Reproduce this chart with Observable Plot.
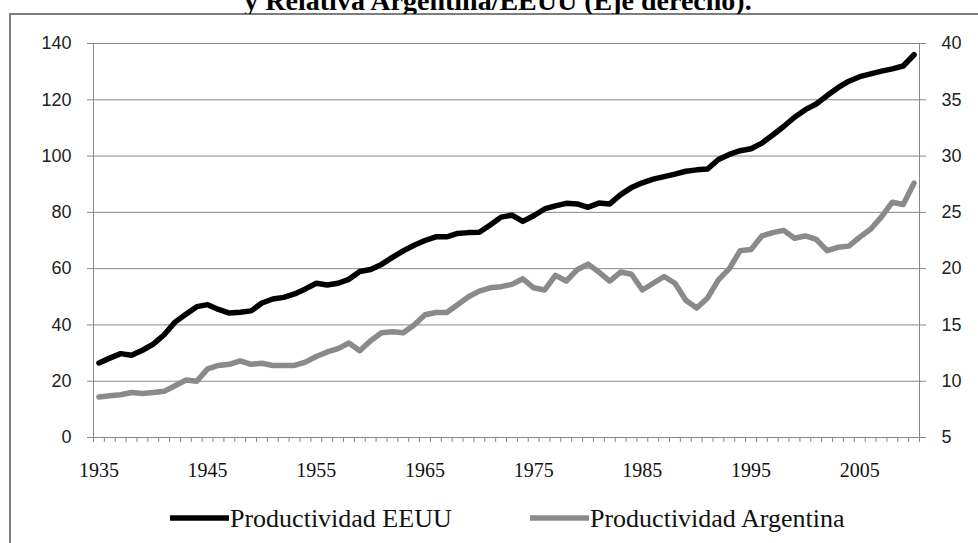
<!DOCTYPE html>
<html>
<head>
<meta charset="utf-8">
<script src="https://cdn.jsdelivr.net/npm/d3@7"></script>
<script src="https://cdn.jsdelivr.net/npm/@observablehq/plot@0.6"></script>
<style>
  html, body { margin: 0; padding: 0; background: #fff; overflow: hidden; }
  #wrap { position: relative; width: 978px; height: 543px; overflow: hidden; }
  #wrap > svg { position: absolute; left: 0; top: 0; }
  #frame { position: absolute; left: 9px; top: 13px; width: 1000px; height: 600px;
           border-top: 2px solid #7d7d7d; border-left: 2px solid #7d7d7d; box-sizing: border-box; }
</style>
</head>
<body>
<div id="wrap"><div id="frame"></div></div>
<script>
// ---- data ----
const titleText = "y Relativa Argentina/EEUU (Eje derecho).";
const seriesNames = ["Productividad EEUU", "Productividad Argentina"];
const years = [1935,1936,1937,1938,1939,1940,1941,1942,1943,1944,1945,1946,1947,1948,1949,
  1950,1951,1952,1953,1954,1955,1956,1957,1958,1959,1960,1961,1962,1963,1964,1965,1966,1967,
  1968,1969,1970,1971,1972,1973,1974,1975,1976,1977,1978,1979,1980,1981,1982,1983,1984,1985,
  1986,1987,1988,1989,1990,1991,1992,1993,1994,1995,1996,1997,1998,1999,2000,2001,2002,2003,
  2004,2005,2006,2007,2008,2009,2010];
// Productividad EEUU (left axis)
const eeuu = [26.5,28.2,29.8,29.2,31.0,33.2,36.5,41.0,43.8,46.5,47.2,45.5,44.2,44.5,45.0,
  47.8,49.2,49.8,51.0,52.8,54.8,54.2,54.8,56.2,59.0,59.7,61.5,64.0,66.3,68.3,70.0,71.3,71.3,
  72.5,72.8,72.9,75.5,78.3,79.0,76.8,78.8,81.2,82.3,83.2,83.0,81.8,83.3,83.0,86.3,88.8,90.5,
  91.8,92.7,93.6,94.6,95.1,95.4,98.8,100.6,101.9,102.6,104.6,107.5,110.5,113.8,116.5,118.5,
  121.5,124.3,126.6,128.2,129.2,130.2,131.0,132.0,136.0];
// Productividad Argentina (right axis)
const argentina = [8.6,8.7,8.8,9.0,8.9,9.0,9.1,9.6,10.1,10.0,11.1,11.4,11.5,11.8,11.5,
  11.6,11.4,11.4,11.4,11.7,12.2,12.6,12.9,13.4,12.7,13.6,14.3,14.4,14.3,15.0,15.9,16.1,16.1,
  16.8,17.5,18.0,18.3,18.4,18.6,19.1,18.3,18.1,19.4,18.9,19.9,20.4,19.7,18.9,19.7,19.5,18.1,
  18.7,19.3,18.7,17.2,16.5,17.4,19.0,20.0,21.6,21.7,22.9,23.2,23.4,22.7,22.9,22.6,21.6,21.9,
  22.0,22.8,23.5,24.6,25.9,25.7,27.6];
const leftTicks = [0,20,40,60,80,100,120,140];
const rightTicks = [5,10,15,20,25,30,35,40];
const xTickYears = [1935,1945,1955,1965,1975,1985,1995,2005];
const colors = ["#000000", "#8a8a8a"];

// ---- scale helpers ----
const rightMin = 5, rightMax = 40, leftMax = 140;
const toLeft = v => (v - rightMin) * leftMax / (rightMax - rightMin);
const fromLeft = d => d * (rightMax - rightMin) / leftMax + rightMin;
const catBounds = years.map(y => y - 0.5).concat([years[years.length - 1] + 0.5]);

const rows = years.map((y, i) => ({year: y, us: eeuu[i], ar: argentina[i]}));

const chart = Plot.plot({
  width: 978,
  height: 543,
  marginTop: 43,
  marginBottom: 106,
  marginLeft: 93,
  marginRight: 59,
  style: {background: "transparent", overflow: "visible", fontFamily: "Liberation Serif"},
  x: {domain: [years[0] - 0.5, years[years.length - 1] + 0.5], axis: null},
  y: {domain: [0, leftMax], axis: null},
  marks: [
    Plot.ruleY(leftTicks, {stroke: "#878787", strokeWidth: 1}),
    Plot.ruleX([catBounds[0], catBounds[catBounds.length - 1]], {stroke: "#878787", strokeWidth: 1}),
    Plot.axisX({ticks: catBounds, tickSize: 5, tickFormat: () => "", stroke: "#878787", label: null}),
    Plot.axisX({ticks: xTickYears, tickSize: 0, tickPadding: 25, tickFormat: d => String(d),
      fontSize: 20, fontFamily: "Liberation Serif", fill: "#111", label: null}),
    Plot.axisY({anchor: "left", ticks: leftTicks, tickSize: 6, tickPadding: 16, label: null,
      stroke: "#878787", fill: "#222", fontSize: 18, fontFamily: "Liberation Sans", tickFormat: d => String(d)}),
    Plot.axisY({anchor: "right", ticks: rightTicks.map(toLeft), tickSize: 6, tickPadding: 16, label: null,
      stroke: "#878787", fill: "#222", fontSize: 18, fontFamily: "Liberation Sans",
      tickFormat: d => String(Math.round(fromLeft(d)))}),
    Plot.line(rows, {x: "year", y: d => toLeft(d.ar), stroke: colors[1], strokeWidth: 5.5,
      strokeLinejoin: "round", strokeLinecap: "round"}),
    Plot.line(rows, {x: "year", y: "us", stroke: colors[0], strokeWidth: 5.5,
      strokeLinejoin: "round", strokeLinecap: "round"})
  ]
});
document.getElementById("wrap").appendChild(chart);

// ---- title (partially cut at the top, as in the source) ----
const tsvg = d3.select("#wrap").append("svg").attr("width", 978).attr("height", 14);
tsvg.append("text").attr("x", 498).attr("y", 9.5).attr("text-anchor", "middle")
  .attr("font-family", "Liberation Serif").attr("font-weight", "bold").attr("font-size", 28)
  .text(titleText);

// ---- legend ----
const lsvg = d3.select("#wrap").append("svg").attr("width", 978).attr("height", 543)
  .style("pointer-events", "none");
const legendItems = [
  {name: seriesNames[0], color: colors[0], x: 170},
  {name: seriesNames[1], color: colors[1], x: 530}
];
legendItems.forEach(it => {
  lsvg.append("line").attr("x1", it.x).attr("x2", it.x + 59).attr("y1", 518).attr("y2", 518)
    .attr("stroke", it.color).attr("stroke-width", 5.5);
  lsvg.append("text").attr("x", it.x + 60).attr("y", 527).attr("font-family", "Liberation Serif")
    .attr("font-size", 26).attr("fill", "#111").text(it.name);
});
</script>
</body>
</html>
